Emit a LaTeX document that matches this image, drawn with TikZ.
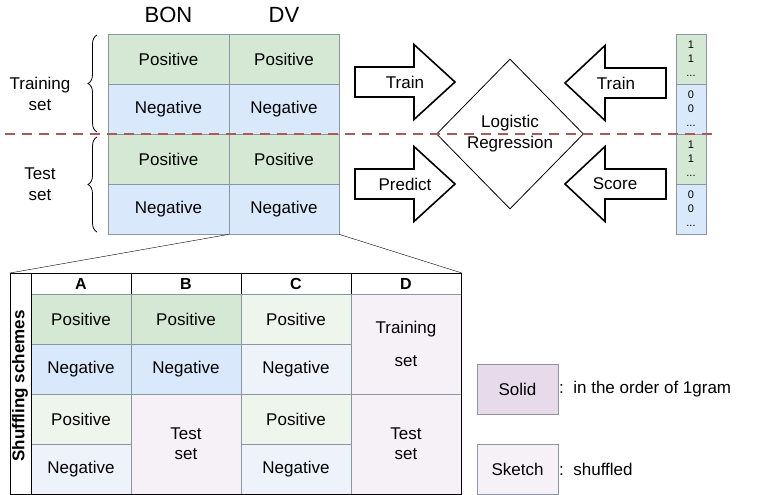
\documentclass[tikz,border=0pt]{standalone}
\usepackage{fontspec}
\setmainfont{Liberation Sans}
\usetikzlibrary{calc,positioning,shapes,decorations.pathreplacing}
\definecolor{posfill}{HTML}{D5E8D4}
\definecolor{negfill}{HTML}{DAE8FC}
\definecolor{posskt}{HTML}{EEF5EC}
\definecolor{negskt}{HTML}{EEF3FB}
\definecolor{setfill}{HTML}{E6DAEB}
\definecolor{setskt}{HTML}{F6F1F7}
\definecolor{cellline}{HTML}{8C96A0}
\definecolor{splitline}{HTML}{A85A5C}
\tikzstyle{cell}     = [draw=cellline, line width=0.8pt, inner sep=0pt, minimum height=50, align=center, font=\fontsize{17}{20}\selectfont]
\tikzstyle{poscell}  = [cell, fill=posfill]
\tikzstyle{negcell}  = [cell, fill=negfill]
\tikzstyle{posk}     = [cell, fill=posskt]
\tikzstyle{negk}     = [cell, fill=negskt]
\tikzstyle{setk}     = [cell, fill=setskt, minimum height=100]
\tikzstyle{bitcell}  = [draw=cellline, line width=0.6pt, inner sep=0pt, minimum width=30, minimum height=50, align=center, font=\fontsize{11}{14}\selectfont]
\tikzstyle{schemehd} = [draw=black, line width=0.8pt, fill=white, inner sep=0pt, minimum height=21, font=\bfseries\fontsize{16}{18}\selectfont]
\tikzstyle{txt}      = [align=center, inner sep=0pt, font=\fontsize{17}{21}\selectfont]
\tikzstyle{blockarrow} = [draw=black, line width=1.6pt, fill=white, line join=miter]
\tikzstyle{curly}    = [decorate, decoration={brace, amplitude=9pt}, line width=0.8pt]

\begin{document}
\begin{tikzpicture}[x=1pt, y=-1pt]
    \useasboundingbox (0,0) rectangle (758,495);

    % top table
    \node[font=\fontsize{22}{26}\selectfont] (bon) at (168.5,15) {BON};
    \node[font=\fontsize{22}{26}\selectfont] (dv) at (284,15) {DV};
    \node[poscell, minimum width=121] (bonTrP) at (168.5,59) {Positive};
    \node[negcell, minimum width=121] (bonTrN) at (168.5,109) {Negative};
    \node[poscell, minimum width=121] (bonTeP) at (168.5,159) {Positive};
    \node[negcell, minimum width=121] (bonTeN) at (168.5,209) {Negative};
    \node[poscell, minimum width=110] (dvTrP) at (284,59) {Positive};
    \node[negcell, minimum width=110] (dvTrN) at (284,109) {Negative};
    \node[poscell, minimum width=110] (dvTeP) at (284,159) {Positive};
    \node[negcell, minimum width=110] (dvTeN) at (284,209) {Negative};

    \draw[curly] (97,132) -- (97,35);
    \draw[curly] (97,232) -- (97,137);
    \node[txt] (trainset) at (40,94) {Training\\set};
    \node[txt] (testset) at (40,184) {Test\\set};

    % labels column
    \node[bitcell, fill=posfill] (y1) at (691,59) {1\\1\\...};
    \node[bitcell, fill=negfill] (y2) at (691,109) {0\\0\\...};
    \node[bitcell, fill=posfill] (y3) at (691,159) {1\\1\\...};
    \node[bitcell, fill=negfill] (y4) at (691,209) {0\\0\\...};

    % model
    \node[draw, diamond, line width=0.8pt, minimum width=147, minimum height=150, txt] (lr) at (510,134) {Logistic\\Regression};

    \draw[blockarrow] (355,67) -- (414,67) -- (414,44.5) -- (455,82) -- (414,119.5) -- (414,97) -- (355,97) -- cycle;
    \draw[blockarrow] (355,169) -- (414,169) -- (414,146.5) -- (455,184) -- (414,221.5) -- (414,199) -- (355,199) -- cycle;
    \draw[blockarrow] (666,68) -- (605,68) -- (605,45.5) -- (565,83) -- (605,120.5) -- (605,98) -- (666,98) -- cycle;
    \draw[blockarrow] (666,169) -- (605,169) -- (605,146.5) -- (565,184) -- (605,221.5) -- (605,199) -- (666,199) -- cycle;
    \node[txt] (trainA) at (405,82) {Train};
    \node[txt] (predict) at (405,184) {Predict};
    \node[txt] (trainB) at (616,83) {Train};
    \node[txt] (score) at (615,184) {Score};

    % split between training and test
    \coordinate (cutL) at (5,134);
    \coordinate (cutR) at (717,134);
    \draw[splitline, line width=2.6pt, dash pattern=on 10pt off 7pt] (cutL) -- (cutR);

    % shuffling schemes
    \node[draw=black, line width=0.8pt, minimum width=451, minimum height=221, inner sep=0pt, anchor=north west] (zoomed) at (10,273) {};
    \draw (dvTeN.south west) -- (zoomed.north west);
    \draw (dvTeN.south east) -- (zoomed.north east);

    \node[schemehd, minimum width=100] (hA) at (81,283.5) {A};
    \node[schemehd, minimum width=110] (hB) at (186,283.5) {B};
    \node[schemehd, minimum width=110] (hC) at (296,283.5) {C};
    \node[schemehd, minimum width=110] (hD) at (406,283.5) {D};

    \node[poscell, minimum width=100] (aP1) at (81,319) {Positive};
    \node[negcell, minimum width=100] (aN1) at (81,369) {Negative};
    \node[posk, minimum width=100] (aP2) at (81,419) {Positive};
    \node[negk, minimum width=100] (aN2) at (81,469) {Negative};

    \node[poscell, minimum width=110] (bP1) at (186,319) {Positive};
    \node[negcell, minimum width=110] (bN1) at (186,369) {Negative};
    \node[setk, minimum width=110] (bTe) at (186,444) {Test\\set};

    \node[posk, minimum width=110] (cP1) at (296,319) {Positive};
    \node[negk, minimum width=110] (cN1) at (296,369) {Negative};
    \node[posk, minimum width=110] (cP2) at (296,419) {Positive};
    \node[negk, minimum width=110] (cN2) at (296,469) {Negative};

    \node[setk, minimum width=110, font=\fontsize{17}{33}\selectfont] (dTr) at (406,344) {Training\\set};
    \node[setk, minimum width=110] (dTe) at (406,444) {Test\\set};

    \draw[line width=0.8pt] (zoomed.north west) rectangle (zoomed.south east);
    \draw[line width=0.8pt] (31,273) -- (31,494);
    \node[rotate=90, font=\bfseries\fontsize{17}{20}\selectfont] (schemes) at (20,386) {Shuffling schemes};

    % legend
    \node[cell, fill=setfill, minimum width=81] (solid) at (517.5,389) {Solid};
    \node[cell, fill=setskt, minimum width=81] (sketch) at (517.5,469) {Sketch};
    \node[txt, anchor=west] (solidtxt) at (559,389) {:\ \ in the order of 1gram};
    \node[txt, anchor=west] (sketchtxt) at (559,469) {:\ \ shuffled};
\end{tikzpicture}
\end{document}
